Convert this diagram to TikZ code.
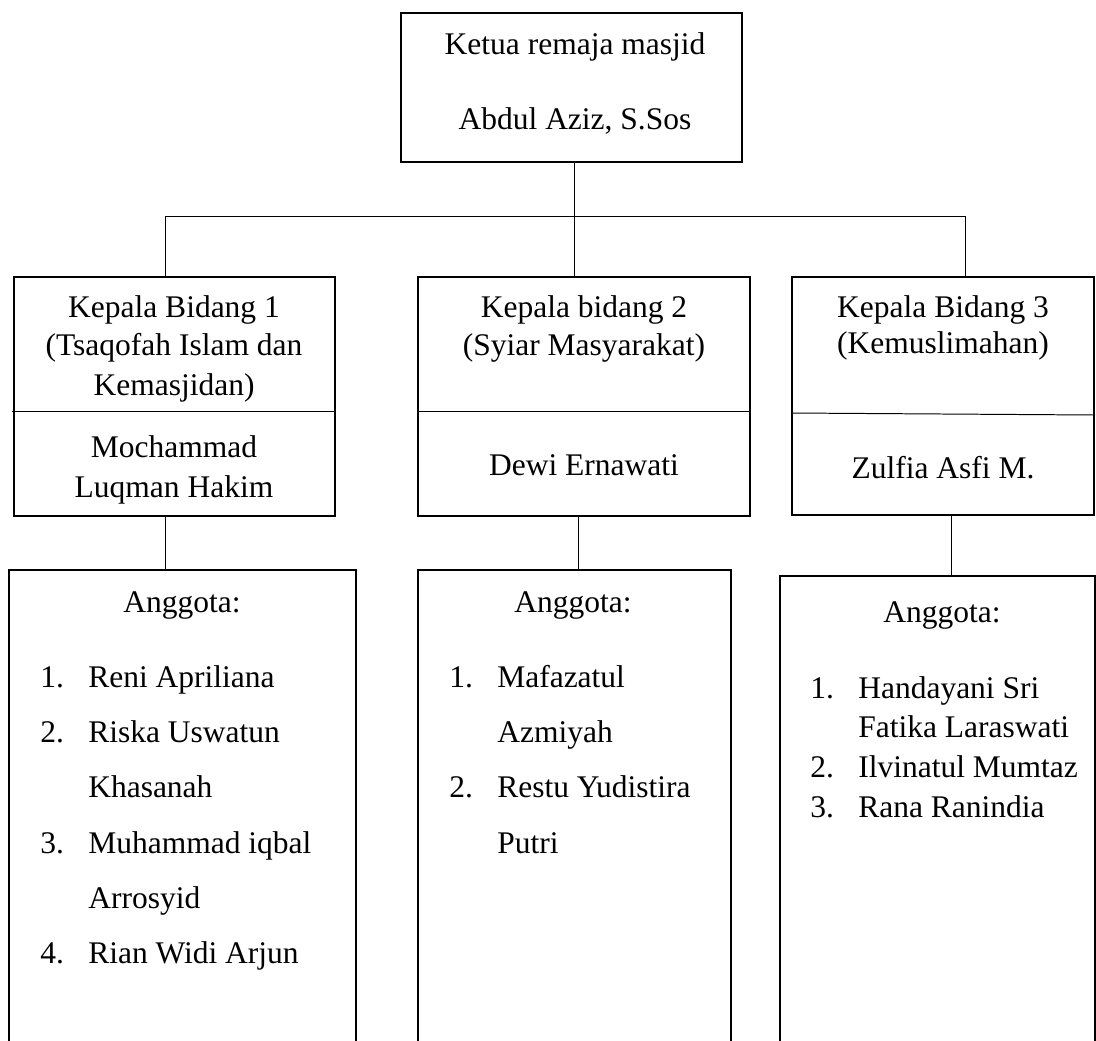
\documentclass[tikz,border=0pt]{standalone}
\usepackage{fontspec}
\setmainfont{Liberation Serif}
\usetikzlibrary{fit}

\tikzset{
  box/.style={draw=black, line width=1.4pt, inner sep=0pt},
  garis/.style={line width=0.7pt},
  teks/.style={inner sep=0pt, anchor=base, font=\fontsize{22.4}{27}\selectfont},
  nomor/.style={teks, anchor=base west},
}

\begin{document}
\begin{tikzpicture}[x=0.025cm, y=-0.025cm]
			%%%%% START %%%%%
			\clip (0,0) rectangle (1096,1040);
			
			% ketua
			\node[box, fit={(401,13) (742,162)}] (ketua) {};
			\node[teks] (k1) at (575,54) {Ketua remaja masjid};
			\node[teks] (k2) at (575,129) {Abdul Aziz, S.Sos};
			
			% kepala bidang
			\node[box, fit={(14,277) (335,516)}] (bid1) {};
			\node[box, fit={(418,277) (750,516)}] (bid2) {};
			\node[box, fit={(792,277) (1094,515)}] (bid3) {};
			\draw[garis] (12,411) -- (bid1.east |- 0,411);
			\draw[garis] (bid2.west |- 0,411) -- (bid2.east |- 0,411);
			\draw[garis] (bid3.west |- 0,413) -- (bid3.east |- 0,415);
			
			\node[teks] (b1a) at (174,317) {Kepala Bidang 1};
			\node[teks] (b1b) at (174,355) {(Tsaqofah Islam dan};
			\node[teks] (b1c) at (174,395) {Kemasjidan)};
			\node[teks] (b1d) at (174,457) {Mochammad};
			\node[teks] (b1e) at (174,497) {Luqman Hakim};
			
			\node[teks] (b2a) at (584,317) {Kepala bidang 2};
			\node[teks] (b2b) at (584,355) {(Syiar Masyarakat)};
			\node[teks] (b2c) at (584,475) {Dewi Ernawati};
			
			\node[teks] (b3a) at (943,317) {Kepala Bidang 3};
			\node[teks] (b3b) at (943,353) {(Kemuslimahan)};
			\node[teks] (b3c) at (943,478) {Zulfia Asfi M.};
			
			% garis ketua ke bidang
			\coordinate (busL) at (165,216);
			\coordinate (busM) at (574,216);
			\coordinate (busR) at (965,216);
			\draw[garis] (ketua.south -| busM) -- (busM);
			\draw[garis] (busL) -- (busR);
			\draw[garis] (busL) -- (busL |- bid1.north);
			\draw[garis] (busM) -- (busM |- bid2.north);
			\draw[garis] (busR) -- (busR |- bid3.north);
			
			% anggota
			\node[box, fit={(9,570) (356,1060)}] (ang1) {};
			\node[box, fit={(418,570) (731,1060)}] (ang2) {};
			\node[box, fit={(780,576) (1095,1060)}] (ang3) {};
			
			\draw[garis] (bid1.south -| 165,0) -- (ang1.north -| 165,0);
			\draw[garis] (bid2.south -| 578,0) -- (ang2.north -| 578,0);
			\draw[garis] (bid3.south -| 951,0) -- (ang3.north -| 951,0);
			
			\node[teks] (a1) at (182,612) {Anggota:};
			\node[nomor] (a1n1) at (40,687) {1.};
			\node[nomor] (a1s1) at (88,687) {Reni Apriliana};
			\node[nomor] (a1n2) at (40,742) {2.};
			\node[nomor] (a1s2) at (88,742) {Riska Uswatun};
			\node[nomor] (a1s2b) at (88,797) {Khasanah};
			\node[nomor] (a1n3) at (40,853) {3.};
			\node[nomor] (a1s3) at (88,853) {Muhammad iqbal};
			\node[nomor] (a1s3b) at (88,908) {Arrosyid};
			\node[nomor] (a1n4) at (40,963) {4.};
			\node[nomor] (a1s4) at (88,963) {Rian Widi Arjun};
			
			\node[teks] (a2) at (573,612) {Anggota:};
			\node[nomor] (a2n1) at (449,687) {1.};
			\node[nomor] (a2s1) at (497,687) {Mafazatul};
			\node[nomor] (a2s1b) at (497,742) {Azmiyah};
			\node[nomor] (a2n2) at (449,797) {2.};
			\node[nomor] (a2s2) at (497,797) {Restu Yudistira};
			\node[nomor] (a2s2b) at (497,853) {Putri};
			
			\node[teks] (a3) at (942,622) {Anggota:};
			\node[nomor] (a3n1) at (810,698) {1.};
			\node[nomor] (a3s1) at (858,698) {Handayani Sri};
			\node[nomor] (a3s1b) at (858,737) {Fatika Laraswati};
			\node[nomor] (a3n2) at (810,777) {2.};
			\node[nomor] (a3s2) at (858,777) {Ilvinatul Mumtaz};
			\node[nomor] (a3n3) at (810,817) {3.};
			\node[nomor] (a3s3) at (858,817) {Rana Ranindia};
			
			%%%%% END %%%%%
\end{tikzpicture}
\end{document}
